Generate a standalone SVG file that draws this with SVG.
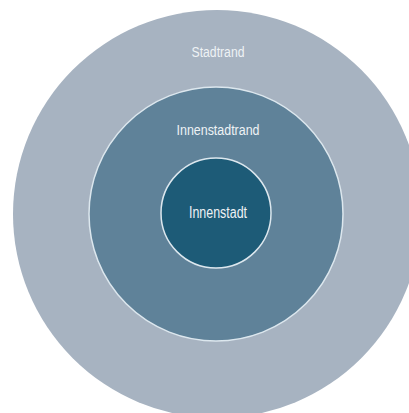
<svg xmlns="http://www.w3.org/2000/svg" width="409" height="413" viewBox="0 0 409 413">
<style>
.lbl{font-family:"Liberation Sans",Arial,sans-serif;fill:#eef2f5;text-anchor:middle}
.ring{stroke:#dce7ee;stroke-width:1.5}
</style>
<rect width="409" height="413" fill="#ffffff"/>
<g id="stadtrand">
<circle cx="217" cy="214" r="204" fill="#a7b3c1"/>
<text class="lbl" x="218" y="57" font-size="14" textLength="53" lengthAdjust="spacingAndGlyphs">Stadtrand</text>
</g>
<g id="innenstadtrand">
<circle class="ring" cx="216" cy="214" r="127" fill="#5f8299"/>
<text class="lbl" x="218" y="135" font-size="14" textLength="83" lengthAdjust="spacingAndGlyphs">Innenstadtrand</text>
</g>
<g id="innenstadt">
<circle class="ring" cx="216" cy="213" r="55" fill="#1d5b77"/>
<text class="lbl" x="218" y="218" font-size="16" textLength="58" lengthAdjust="spacingAndGlyphs">Innenstadt</text>
</g>
<g id="connectors"/>
</svg>
